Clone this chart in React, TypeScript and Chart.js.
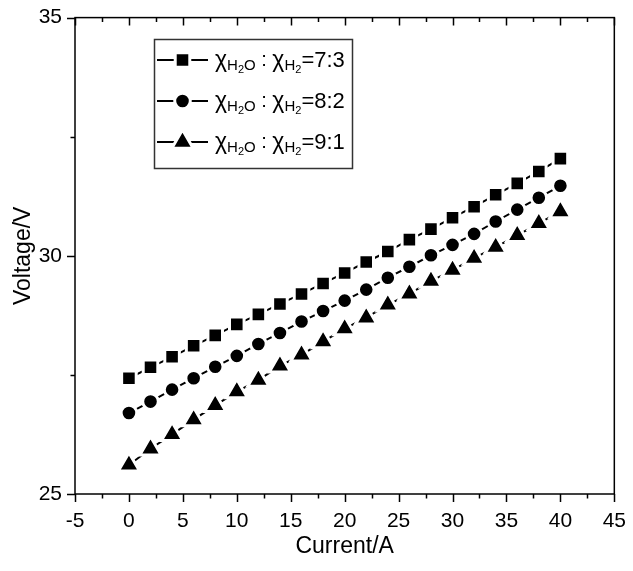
import React, { useEffect, useRef } from 'react';
import { Chart, registerables } from 'chart.js';

Chart.register(...registerables);

// ---- data ----
const currents = [0, 2, 4, 6, 8, 10, 12, 14, 16, 18, 20, 22, 24, 26, 28, 30, 32, 34, 36, 38, 40];
const voltage73 = [27.43, 27.66, 27.88, 28.11, 28.33, 28.56, 28.77, 28.99, 29.2, 29.42, 29.64, 29.87, 30.09, 30.34, 30.56, 30.8, 31.03, 31.28, 31.52, 31.77, 32.04];
const voltage82 = [26.7, 26.94, 27.19, 27.43, 27.67, 27.9, 28.15, 28.38, 28.62, 28.84, 29.06, 29.29, 29.54, 29.77, 30.01, 30.23, 30.46, 30.72, 30.97, 31.22, 31.47];
const voltage91 = [25.61, 25.95, 26.25, 26.56, 26.86, 27.15, 27.39, 27.69, 27.92, 28.2, 28.47, 28.7, 28.97, 29.2, 29.47, 29.7, 29.95, 30.18, 30.43, 30.68, 30.93];
const ratioLabels = ['7:3', '8:2', '9:1'];
const markerStyles = ['rect', 'circle', 'triangle'];
const xTitle = 'Current/A';
const yTitle = 'Voltage/V';

const FONT = "'Liberation Sans', Arial, Helvetica, sans-serif";

function drawMarker(ctx: CanvasRenderingContext2D, style: string, x: number, y: number) {
  ctx.save();
  ctx.fillStyle = '#000';
  ctx.strokeStyle = '#fff';
  ctx.lineWidth = 3;
  ctx.beginPath();
  if (style === 'rect') {
    const r = 10.3 * Math.SQRT1_2;
    ctx.rect(x - r, y - r, 2 * r, 2 * r);
  } else if (style === 'circle') {
    ctx.arc(x, y, 7.8, 0, Math.PI * 2);
  } else {
    const r = 12.3;
    for (let i = 0; i < 3; i++) {
      const a = (i * 2 * Math.PI) / 3;
      const px = x + Math.sin(a) * r;
      const py = y - Math.cos(a) * r;
      if (i === 0) ctx.moveTo(px, py);
      else ctx.lineTo(px, py);
    }
    ctx.closePath();
  }
  ctx.fill();
  ctx.stroke();
  ctx.restore();
}

function drawRich(ctx: CanvasRenderingContext2D, x: number, base: number, parts: [string, number, number][]) {
  let cx = x;
  for (const [t, size, dy] of parts) {
    ctx.font = `${size}px ${FONT}`;
    ctx.fillText(t, cx, base + dy);
    cx += ctx.measureText(t).width;
  }
}

const framePlugin = {
  id: 'frameTicks',
  beforeDatasetsDraw(chart: any) {
    const { ctx, chartArea } = chart;
    const { left, right, top, bottom } = chartArea;
    const xs = chart.scales.x;
    const ys = chart.scales.y;
    ctx.save();
    ctx.strokeStyle = '#000';
    ctx.lineWidth = 1.5;
    ctx.strokeRect(left, top, right - left, bottom - top);
    ctx.beginPath();
    for (let v = xs.min; v <= xs.max + 1e-9; v += 2.5) {
      const major = Math.abs(v % 5) < 1e-9;
      const len = major ? 8 : 4.5;
      const px = Math.round(xs.getPixelForValue(v)) + 0.5;
      ctx.moveTo(px, bottom);
      ctx.lineTo(px, bottom + len);
      ctx.moveTo(px, top);
      ctx.lineTo(px, top + len);
    }
    for (let v = ys.min; v <= ys.max + 1e-9; v += 2.5) {
      const major = Math.abs(v % 5) < 1e-9;
      const len = major ? 8 : 4.5;
      const py = Math.round(ys.getPixelForValue(v)) + 0.5;
      ctx.moveTo(left, py);
      ctx.lineTo(left - len, py);
    }
    ctx.stroke();
    ctx.restore();
  },
  afterDraw(chart: any) {
    const ctx: CanvasRenderingContext2D = chart.ctx;
    ctx.save();
    // legend box
    ctx.strokeStyle = '#333';
    ctx.lineWidth = 1.5;
    ctx.strokeRect(154.5, 39.5, 198, 129);
    const rows = [60, 101, 142];
    ratioLabels.forEach((lab, i) => {
      const cy = rows[i];
      ctx.strokeStyle = '#000';
      ctx.lineWidth = 2;
      ctx.beginPath();
      ctx.moveTo(157, cy);
      ctx.lineTo(208, cy);
      ctx.stroke();
      drawMarker(ctx, markerStyles[i], 182.5, cy);
      ctx.fillStyle = '#000';
      ctx.textBaseline = 'alphabetic';
      ctx.textAlign = 'left';
      const b = cy + 7;
      drawRich(ctx, 215, b, [
        ['χ', 23, 0],
        ['H', 15, 3],
        ['2', 11, 6],
        ['O', 15, 3],
        [' : ', 20, -1],
        ['χ', 23, 0],
        ['H', 15, 3],
        ['2', 11, 6],
        ['=' + lab, 22, 0],
      ]);
    });
    ctx.restore();
  },
};

export default function App() {
  const ref = useRef<HTMLCanvasElement | null>(null);
  useEffect(() => {
    if (!ref.current) return;
    const mk = (vals: number[], style: string, radius: number) => ({
      data: currents.map((c, i) => ({ x: c, y: vals[i] })),
      borderColor: '#000',
      borderWidth: 2,
      pointStyle: style,
      pointRadius: radius,
      pointBackgroundColor: '#000',
      pointBorderColor: '#fff',
      pointBorderWidth: 3,
      fill: false,
      tension: 0,
    });
    const chart = new Chart(ref.current, {
      type: 'line',
      data: {
        datasets: [
          mk(voltage73, 'rect', 10.3),
          mk(voltage82, 'circle', 7.8),
          mk(voltage91, 'triangle', 12.3),
        ] as any,
      },
      options: {
        animation: false,
        responsive: true,
        maintainAspectRatio: false,
        events: [],
        layout: { padding: { top: 15, right: 11, left: 0, bottom: 0 } },
        plugins: { legend: { display: false }, tooltip: { enabled: false } },
        scales: {
          x: {
            type: 'linear',
            min: -5,
            max: 45,
            grid: { display: false },
            border: { display: false },
            ticks: { stepSize: 5, color: '#000', font: { family: FONT, size: 21 }, padding: 7, maxRotation: 0 },
            title: { display: true, text: xTitle, color: '#000', font: { family: FONT, size: 23 }, padding: { top: 0, bottom: 11 } },
            afterFit: (s: any) => { s.height = 77; },
          },
          y: {
            type: 'linear',
            min: 25,
            max: 35,
            grid: { display: false },
            border: { display: false },
            ticks: { stepSize: 5, color: '#000', font: { family: FONT, size: 21 }, padding: 5 },
            title: { display: true, text: yTitle, color: '#000', font: { family: FONT, size: 23 }, padding: { top: 10, bottom: 0 } },
            afterFit: (s: any) => { s.width = 75; },
          },
        },
      } as any,
      plugins: [framePlugin],
    });
    return () => chart.destroy();
  }, []);
  return (
    <div style={{ position: 'absolute', left: 0, top: 0, width: 633, height: 571, background: '#fff' }}>
      <canvas ref={ref} />
    </div>
  );
}
